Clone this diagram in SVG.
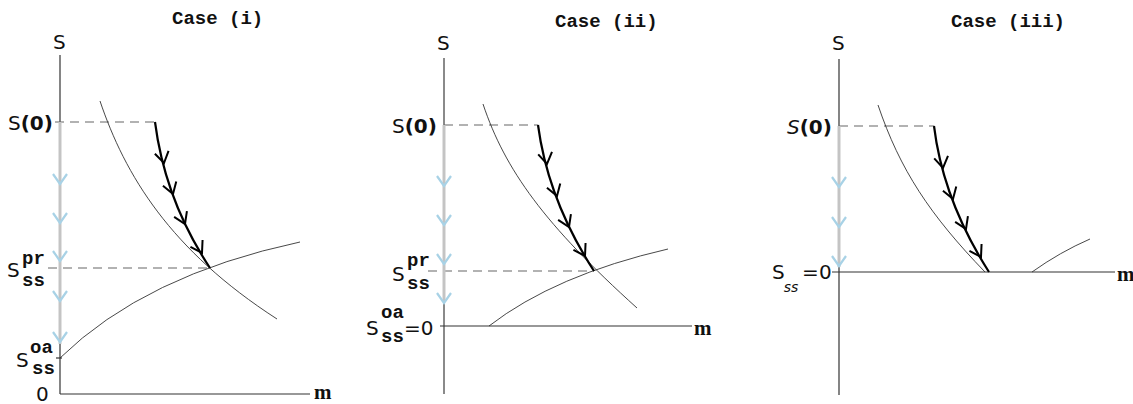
<svg xmlns="http://www.w3.org/2000/svg" width="1133" height="404" viewBox="0 0 1133 404">
<style>
.title{font-family:"Liberation Mono",monospace;font-weight:bold;font-size:19px;fill:#111}
.lab{font-family:"DejaVu Sans",sans-serif;font-size:20px;fill:#111}
.mono{font-family:"Liberation Mono",monospace;font-weight:bold;font-size:19px;fill:#111}
.m{font-family:"Liberation Serif",serif;font-weight:bold;font-size:21px;fill:#111}
.axis{stroke:#333;stroke-width:1.2;fill:none}
.thin{stroke:#333;stroke-width:0.9;fill:none}
.dash{stroke:#666;stroke-width:1.2;stroke-dasharray:9,6;fill:none}
.gray{stroke:#c4c4c4;stroke-width:3;fill:none}
.traj{stroke:#000;stroke-width:2.2;fill:none}
</style>
<defs>
<path id="bch" d="M-7,-10 L0,0 L7,-10" fill="none" stroke="#a8d2e6" stroke-width="2.2"/>
<path id="kch" d="M-7,-11 L0,0 L7,-11" fill="none" stroke="#000" stroke-width="2"/>
</defs>

<g id="panel1">
<text class="title" x="172" y="24">Case (i)</text>
<text class="lab" x="53" y="49">S</text>
<line class="axis" x1="60" y1="55" x2="60" y2="394"/>
<line class="axis" x1="60" y1="394" x2="310" y2="394"/>
<line class="axis" x1="56" y1="358" x2="62" y2="358"/>
<text class="m" x="314" y="399">m</text>
<text class="lab" x="36" y="401" font-size="18">0</text>
<text class="lab" x="8" y="130">S<tspan font-weight="bold">(0)</tspan></text>
<line class="dash" x1="55" y1="122" x2="155" y2="122"/>
<line class="dash" x1="48" y1="268" x2="210" y2="268"/>
<line class="gray" x1="60" y1="122" x2="60" y2="344"/>
<use href="#bch" x="60" y="184"/>
<use href="#bch" x="60" y="223"/>
<use href="#bch" x="60" y="261"/>
<use href="#bch" x="60" y="301"/>
<use href="#bch" x="60" y="342"/>
<text class="lab" x="7" y="277">S</text>
<text class="mono" x="22" y="264">pr</text>
<text class="mono" x="22" y="286">ss</text>
<text class="lab" x="16" y="367">S</text>
<text class="mono" x="30" y="353">oa</text>
<text class="mono" x="32" y="374">ss</text>
<path class="thin" d="M100,101 C125,175 170,250 277,319"/>
<path class="thin" d="M60,358 Q145,275 300,242"/>
<path class="traj" d="M155,122 Q165,200 210,268"/>
<use href="#kch" transform="translate(164,163) rotate(-12)"/>
<use href="#kch" transform="translate(173,194) rotate(-18)"/>
<use href="#kch" transform="translate(185,224) rotate(-24)"/>
<use href="#kch" transform="translate(202,253) rotate(-30)"/>
</g>

<g id="panel2">
<text class="title" x="555" y="27">Case (ii)</text>
<text class="lab" x="437" y="50">S</text>
<line stroke="#8a8a8a" stroke-width="2" x1="444" y1="58" x2="444" y2="394"/>
<line class="axis" x1="440" y1="326" x2="692" y2="326"/>
<text class="m" x="694" y="335">m</text>
<text class="lab" x="392" y="133">S<tspan font-weight="bold">(0)</tspan></text>
<line class="dash" x1="444" y1="125" x2="538" y2="125"/>
<line class="dash" x1="428" y1="271" x2="594" y2="271"/>
<line class="gray" x1="444" y1="125" x2="444" y2="302"/>
<use href="#bch" x="444" y="186"/>
<use href="#bch" x="444" y="225"/>
<use href="#bch" x="444" y="264"/>
<use href="#bch" x="444" y="303"/>
<text class="lab" x="392" y="281">S</text>
<text class="mono" x="407" y="266">pr</text>
<text class="mono" x="407" y="289">ss</text>
<text class="lab" x="366" y="335">S</text>
<text class="mono" x="381" y="318">oa</text>
<text class="mono" x="381" y="342">ss</text>
<text class="lab" x="404" y="335">=0</text>
<path class="thin" d="M483,104 C505,170 545,225 637,308"/>
<path class="thin" d="M489,326 Q555,275 668,249"/>
<path class="traj" d="M538,125 Q548,200 594,271"/>
<use href="#kch" transform="translate(547,164) rotate(-10)"/>
<use href="#kch" transform="translate(557,196) rotate(-18)"/>
<use href="#kch" transform="translate(569,227) rotate(-24)"/>
<use href="#kch" transform="translate(585,256) rotate(-30)"/>
</g>

<g id="panel3">
<text class="title" x="951" y="27">Case (iii)</text>
<text class="lab" x="832" y="50">S</text>
<line class="axis" x1="839" y1="59" x2="839" y2="395"/>
<line class="axis" x1="832" y1="272" x2="1115" y2="272"/>
<text class="m" x="1117" y="281">m</text>
<text class="lab" x="787" y="134"><tspan font-style="italic">S</tspan><tspan font-weight="bold">(0)</tspan></text>
<line class="dash" x1="839" y1="126" x2="934" y2="126"/>
<line class="gray" x1="839" y1="126" x2="839" y2="267"/>
<use href="#bch" x="839" y="187"/>
<use href="#bch" x="839" y="227"/>
<use href="#bch" x="839" y="266"/>
<text class="lab" x="772" y="279">S<tspan dx="-1" dy="13" font-size="14" font-style="italic">ss</tspan></text>
<text class="lab" x="802" y="279">=</text>
<text class="lab" x="819" y="279">0</text>
<path class="thin" d="M878,105 C900,170 930,215 985,272"/>
<path class="thin" d="M1032,272 Q1060,252 1090,239"/>
<path class="traj" d="M934,126 Q943,200 989,272"/>
<use href="#kch" transform="translate(943,168) rotate(-10)"/>
<use href="#kch" transform="translate(953,199) rotate(-18)"/>
<use href="#kch" transform="translate(966,229) rotate(-24)"/>
<use href="#kch" transform="translate(981,257) rotate(-30)"/>
</g>
</svg>
